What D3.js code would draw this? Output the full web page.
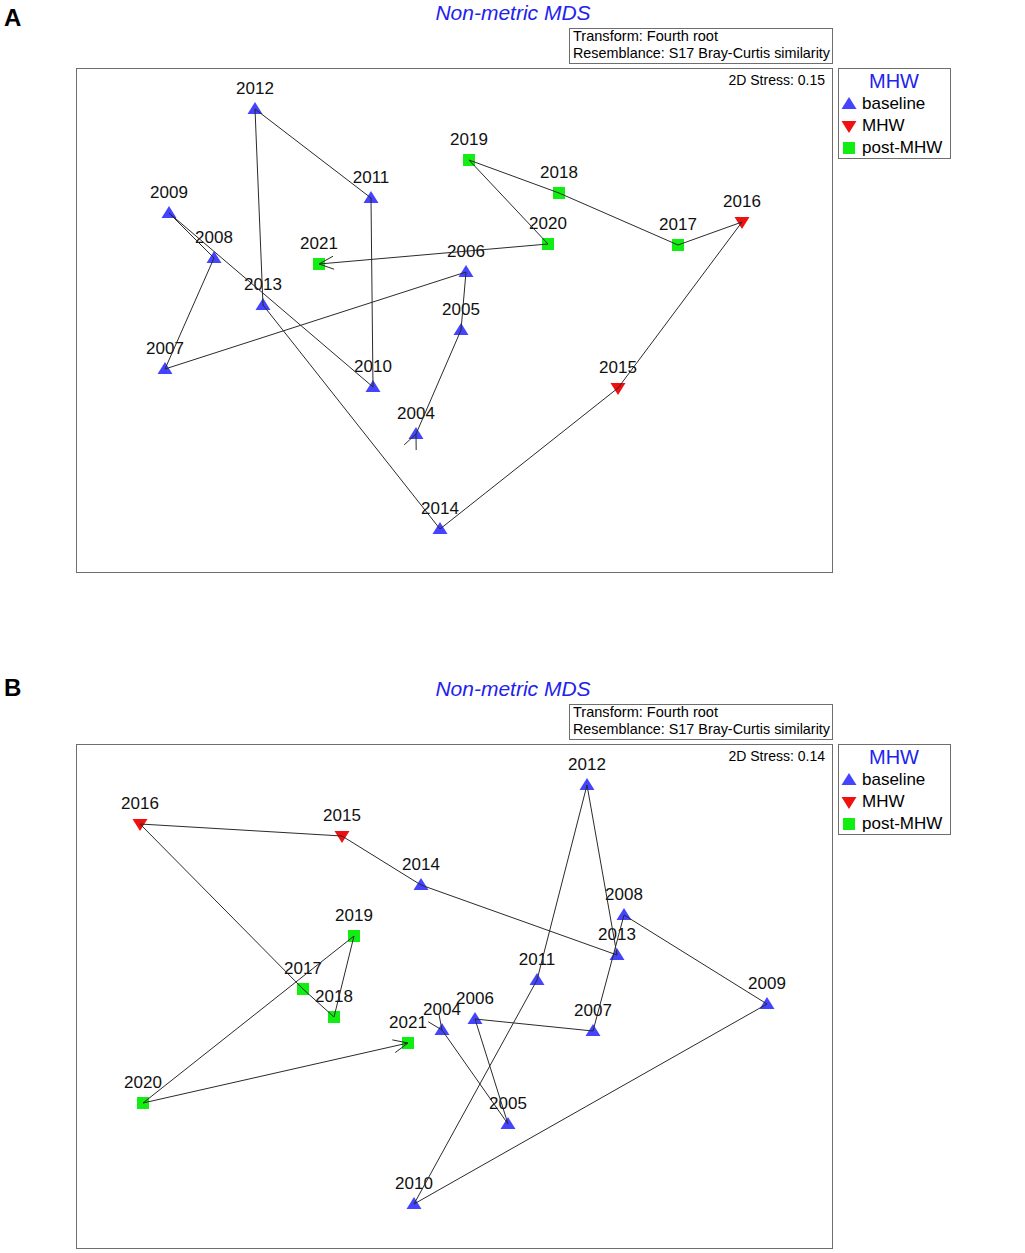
<!DOCTYPE html>
<html>
<head>
  <meta charset="utf-8">
  <title>nMDS trajectories</title>
  <script src="https://d3js.org/d3.v7.min.js"></script>
  <style>
    body { margin: 0; background: #fff; font-family: 'Liberation Sans', Arial, sans-serif; }
    .frame { fill: none; stroke: #6e6e6e; stroke-width: 1; }
    .traj { fill: none; stroke: #2a2a2a; stroke-width: 1; }
  </style>
</head>
<body>
<svg id="fig" width="1025" height="1253"></svg>
<script>
// ---- data ----
const years = [2004, 2005, 2006, 2007, 2008, 2009, 2010, 2011, 2012,
  2013, 2014, 2015, 2016, 2017, 2018, 2019, 2020, 2021];
const periods = ["baseline", "baseline", "baseline", "baseline", "baseline", "baseline",
  "baseline", "baseline", "baseline", "baseline", "baseline", "MHW", "MHW",
  "post-MHW", "post-MHW", "post-MHW", "post-MHW", "post-MHW"];

// panel A (MDS1, MDS2)
const mdsA1 = [-0.38, 0.07, 0.12, -2.89, -2.40, -2.85, -0.81, -0.83, -1.99,
  -1.91, -0.14, 1.64, 2.88, 2.24, 1.05, 0.15, 0.94, -1.35];
const mdsA2 = [-1.14, -0.10, 0.48, -0.49, 0.62, 1.07, -0.67, 1.22, 2.11,
  0.15, -2.09, -0.68, 0.98, 0.75, 1.27, 1.60, 0.76, 0.56];

// panel B (MDS1, MDS2)
const mdsB1 = [-0.12, 0.54, 0.21, 1.39, 1.70, 3.13, -0.40, 0.83, 1.33,
  1.63, -0.33, -1.12, -3.14, -1.51, -1.20, -1.00, -3.11, -0.46];
const mdsB2 = [-0.34, -1.28, -0.23, -0.35, 0.81, -0.08, -2.08, 0.16, 2.11,
  0.41, 1.11, 1.60, 1.72, 0.07, -0.21, 0.60, -1.07, -0.47];

const legendItems = ["baseline", "MHW", "post-MHW"];
const stressVals = ["0.15", "0.14"];

// ---- layout ----
const svg = d3.select("#fig");
const box = { left: 76, right: 832, top: 68, bottom: 572 };
const colour = d3.scaleOrdinal().domain(legendItems).range(["#4444ff", "#f01010", "#11ee11"]);

const x = d3.scaleLinear().domain([-3.78, 3.78]).range([box.left, box.right]);
const y = d3.scaleLinear().domain([-2.52, 2.52]).range([box.bottom, box.top]);

function markerPath(p) {
  if (p === "baseline") return "M0,-7L7.5,5L-7.5,5Z";
  if (p === "MHW") return "M-7.5,-5L7.5,-5L0,7Z";
  return "M-6,-6H6V6H-6Z";
}

// two short strokes going back from a point, opposite to direction (dx,dy)
function wings(g, px, py, dx, dy) {
  const a = Math.atan2(-dy, -dx);
  const len = 16, spread = 0.42;
  [a - spread, a + spread].forEach(t => {
    g.append("line").attr("class", "traj")
      .attr("x1", px).attr("y1", py)
      .attr("x2", px + len * Math.cos(t)).attr("y2", py + len * Math.sin(t));
  });
}

function drawPanel(offsetY, letter, letterY, m1, m2, stress) {
  const g = svg.append("g").attr("transform", `translate(0,${offsetY})`);
  const pts = years.map((yr, i) => ({ year: yr, period: periods[i], x: x(m1[i]), y: y(m2[i]) }));

  g.append("text").attr("x", 4).attr("y", letterY)
    .style("font-size", "24px").style("font-weight", "bold").text(letter);

  g.append("text").attr("x", 513).attr("y", 20).attr("text-anchor", "middle")
    .style("font-size", "21px").style("font-style", "italic").attr("fill", "#2222ee")
    .text("Non-metric MDS");

  // info box
  g.append("rect").attr("class", "frame").attr("x", 569.5).attr("y", 28.5).attr("width", 263).attr("height", 35);
  g.append("text").attr("x", 573).attr("y", 41).style("font-size", "14.5px")
    .attr("textLength", 145).attr("lengthAdjust", "spacingAndGlyphs").text("Transform: Fourth root");
  g.append("text").attr("x", 573).attr("y", 58).style("font-size", "14.5px")
    .attr("textLength", 257).attr("lengthAdjust", "spacingAndGlyphs").text("Resemblance: S17 Bray-Curtis similarity");

  // plot frame
  g.append("rect").attr("class", "frame").attr("x", box.left + 0.5).attr("y", box.top + 0.5)
    .attr("width", box.right - box.left).attr("height", box.bottom - box.top);
  g.append("text").attr("x", 825).attr("y", 85).attr("text-anchor", "end")
    .style("font-size", "14px").text("2D Stress: " + stress);

  // legend
  g.append("rect").attr("class", "frame").attr("x", 838.5).attr("y", 68.5).attr("width", 112).attr("height", 90);
  g.append("text").attr("x", 894).attr("y", 88).attr("text-anchor", "middle")
    .style("font-size", "20px").attr("fill", "#2222ee").text("MHW");
  const li = g.selectAll("g.leg").data(legendItems).join("g").attr("class", "leg")
    .attr("transform", (d, i) => `translate(849,${104 + i * 22})`);
  li.append("path").attr("d", d => markerPath(d)).attr("fill", d => colour(d));
  li.append("text").attr("x", 13).attr("y", 5).style("font-size", "17px").text(d => d);

  // labels
  g.selectAll("text.yr").data(pts).join("text").attr("class", "yr")
    .attr("x", d => d.x).attr("y", d => d.y - 15).attr("text-anchor", "middle")
    .style("font-size", "17px").attr("fill", "#111").text(d => d.year);

  // markers
  g.selectAll("path.pt").data(pts).join("path").attr("class", "pt")
    .attr("transform", d => `translate(${d.x},${d.y})`)
    .attr("d", d => markerPath(d.period)).attr("fill", d => colour(d.period));

  // trajectory
  g.append("path").attr("class", "traj")
    .attr("d", d3.line().x(d => d.x).y(d => d.y)(pts));
  const n = pts.length;
  // tail at start
  wings(g, pts[0].x, pts[0].y, pts[1].x - pts[0].x, pts[1].y - pts[0].y);
  // arrow head at end
  wings(g, pts[n - 1].x, pts[n - 1].y, pts[n - 1].x - pts[n - 2].x, pts[n - 1].y - pts[n - 2].y);
}

drawPanel(0, "A", 26, mdsA1, mdsA2, stressVals[0]);
drawPanel(676, "B", 20, mdsB1, mdsB2, stressVals[1]);
</script>
</body>
</html>
